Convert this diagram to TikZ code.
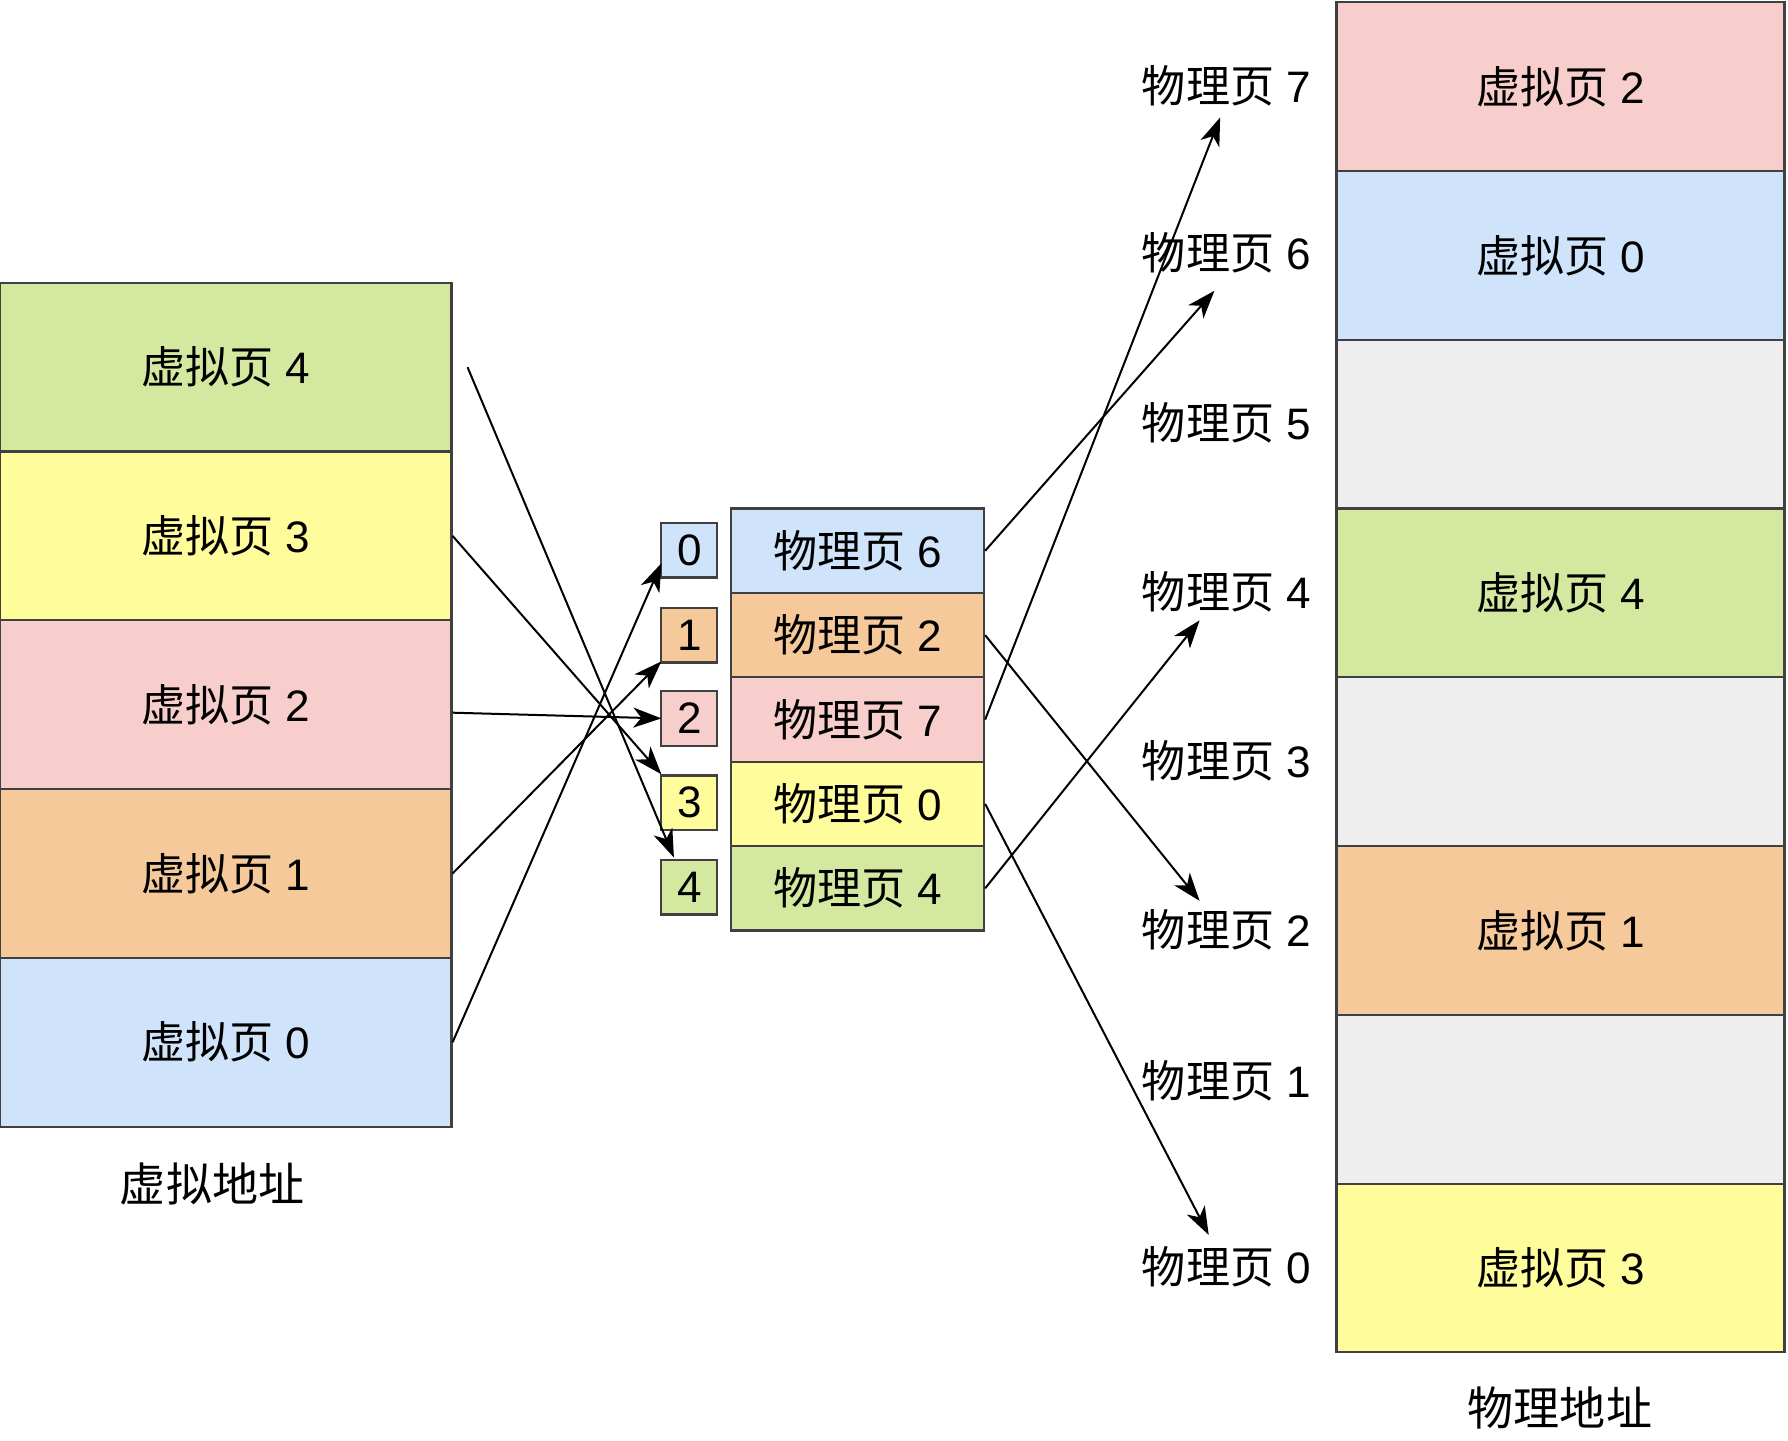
\documentclass[tikz,border=0pt]{standalone}
\usepackage{fontspec}
\setmainfont{Liberation Sans}
\newfontfamily\cjk{Noto Sans CJK SC}
\newcommand\zhtext[1]{{\cjk #1}}
\usetikzlibrary{arrows.meta}
\definecolor{cgreen}{HTML}{D5E8A0}
\definecolor{cyellow}{HTML}{FFFC9C}
\definecolor{cpink}{HTML}{F8CECC}
\definecolor{corange}{HTML}{F6C99B}
\definecolor{cblue}{HTML}{CFE3FA}
\definecolor{cgrey}{HTML}{EEEEEE}
\definecolor{cline}{HTML}{404040}
\tikzset{
  cell/.style={draw=cline, line width=1.1pt, inner sep=0pt, font=\fontsize{22}{26}\selectfont},
  bigcell/.style={cell, minimum width=7.92cm, minimum height=2.96cm},
  rcell/.style={cell, minimum width=7.86cm, minimum height=2.96cm},
  midcell/.style={cell, minimum width=4.44cm, minimum height=1.48cm},
  idx/.style={cell, minimum width=0.98cm, minimum height=0.96cm},
  plabel/.style={anchor=east, inner sep=0pt, font=\fontsize{22}{26}\selectfont},
  caption/.style={inner sep=0pt, font=\fontsize{23}{27}\selectfont},
  conn/.style={-{Stealth[length=14pt,width=10pt,inset=4pt]}, line width=1pt, black},
}
\begin{document}
\begin{tikzpicture}[x=0.02cm, y=-0.02cm]
\useasboundingbox (0,0) rectangle (1568,1263);
% virtual address column
\node[bigcell, fill=cgreen]  (v4) at (198,322) {\zhtext{虚拟页} 4};
\node[bigcell, fill=cyellow] (v3) at (198,470) {\zhtext{虚拟页} 3};
\node[bigcell, fill=cpink]   (v2) at (198,618) {\zhtext{虚拟页} 2};
\node[bigcell, fill=corange] (v1) at (198,766) {\zhtext{虚拟页} 1};
\node[bigcell, fill=cblue]   (v0) at (198,914) {\zhtext{虚拟页} 0};
\node[caption] (vcap) at (186,1038) {\zhtext{虚拟地址}};
% index boxes
\node[idx, fill=cblue]   (i0) at (604.5,482.5) {0};
\node[idx, fill=corange] (i1) at (604.5,557) {1};
\node[idx, fill=cpink]   (i2) at (604.5,630) {2};
\node[idx, fill=cyellow] (i3) at (604.5,704) {3};
\node[idx, fill=cgreen]  (i4) at (604.5,778) {4};
% page table
\node[midcell, fill=cblue]   (m6) at (752,483) {\zhtext{物理页} 6};
\node[midcell, fill=corange] (m2) at (752,557) {\zhtext{物理页} 2};
\node[midcell, fill=cpink]   (m7) at (752,631) {\zhtext{物理页} 7};
\node[midcell, fill=cyellow] (m0) at (752,705) {\zhtext{物理页} 0};
\node[midcell, fill=cgreen]  (m4) at (752,779) {\zhtext{物理页} 4};
% physical memory column
\node[rcell, fill=cpink]   (r7) at (1368.5,76)  {\zhtext{虚拟页} 2};
\node[rcell, fill=cblue]   (r6) at (1368.5,224) {\zhtext{虚拟页} 0};
\node[rcell, fill=cgrey]   (r5) at (1368.5,372) {};
\node[rcell, fill=cgreen]  (r4) at (1368.5,520) {\zhtext{虚拟页} 4};
\node[rcell, fill=cgrey]   (r3) at (1368.5,668) {};
\node[rcell, fill=corange] (r2) at (1368.5,816) {\zhtext{虚拟页} 1};
\node[rcell, fill=cgrey]   (r1) at (1368.5,964) {};
\node[rcell, fill=cyellow] (r0) at (1368.5,1112) {\zhtext{虚拟页} 3};
\node[caption] (pcap) at (1368,1235) {\zhtext{物理地址}};
% physical page labels
\node[plabel] (p7) at (1150,75)   {\zhtext{物理页} 7};
\node[plabel] (p6) at (1150,222)  {\zhtext{物理页} 6};
\node[plabel] (p5) at (1150,371)  {\zhtext{物理页} 5};
\node[plabel] (p4) at (1150,519)  {\zhtext{物理页} 4};
\node[plabel] (p3) at (1150,667)  {\zhtext{物理页} 3};
\node[plabel] (p2) at (1150,815)  {\zhtext{物理页} 2};
\node[plabel] (p1) at (1150,948)  {\zhtext{物理页} 1};
\node[plabel] (p0) at (1150,1111) {\zhtext{物理页} 0};
% connector end points
\coordinate (v4s) at (410,322);
\coordinate (i4e) at (591,752);
\coordinate (i3e) at (580,679);
\coordinate (i2e) at (580,630);
\coordinate (i1e) at (580,580);
\coordinate (i0e) at (580,494);
\coordinate (p7e) at (1070,103);
\coordinate (p6e) at (1065,255);
\coordinate (p4e) at (1052,544);
\coordinate (p2e) at (1052,790);
\coordinate (p0e) at (1060,1083);
% virtual -> index
\draw[conn] (v4s) -- (i4e);
\draw[conn] (v3.east) -- (i3e);
\draw[conn] (v2.east) ++(0,7) -- (i2e);
\draw[conn] (v1.east) -- (i1e);
\draw[conn] (v0.east) -- (i0e);
% page table -> physical
\draw[conn] (m6.east) -- (p6e);
\draw[conn] (m7.east) -- (p7e);
\draw[conn] (m2.east) -- (p2e);
\draw[conn] (m4.east) -- (p4e);
\draw[conn] (m0.east) -- (p0e);
\end{tikzpicture}
\end{document}
